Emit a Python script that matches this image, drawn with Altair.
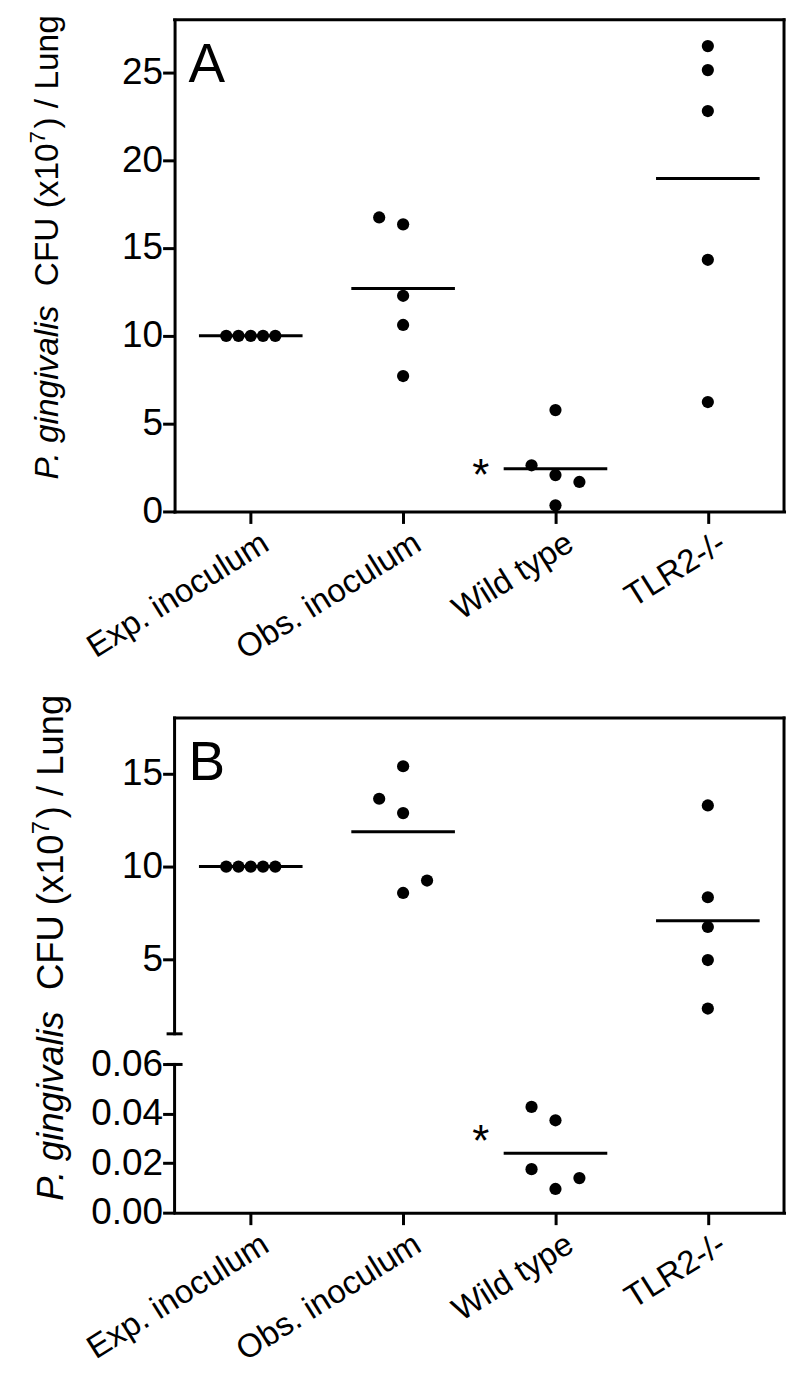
import json
import altair as alt
import pandas as pd

# ---------------- data ----------------
categories = ["Exp. inoculum", "Obs. inoculum", "Wild type", "TLR2-/-"]

# Panel A  (P. gingivalis CFU x10^7 / lung)
a_group = [0, 0, 0, 0, 0, 1, 1, 1, 1, 1, 2, 2, 2, 2, 2, 3, 3, 3, 3, 3]
a_slot = [-2, -1, 0, 1, 2, -1, 0, 0, 0, 0, -1, 0, 0, 0, 1, 0, 0, 0, 0, 0]
a_value = [10, 10, 10, 10, 10,
           16.74, 16.35, 12.28, 10.62, 7.71,
           2.63, 5.77, 2.07, 0.35, 1.68,
           26.5, 25.13, 22.8, 14.33, 6.23]
a_mean = [10, 12.7, 2.43, 18.96]
a_ticks = [0, 5, 10, 15, 20, 25]
a_star = 2.63

# Panel B  (broken axis: 0-0.06 and 1-18)
b_group = [0, 0, 0, 0, 0, 1, 1, 1, 1, 1, 2, 2, 2, 2, 2, 3, 3, 3, 3, 3]
b_slot = [-2, -1, 0, 1, 2, -1, 0, 0, 0, 1, -1, 0, -1, 0, 1, 0, 0, 0, 0, 0]
b_value = [10, 10, 10, 10, 10,
           13.65, 15.4, 12.88, 8.58, 9.25,
           0.0428, 0.0374, 0.0176, 0.0096, 0.014,
           13.29, 8.35, 6.75, 4.97, 2.36]
b_mean = [10, 11.88, 0.0241, 7.08]
b_ticks = [0, 0.02, 0.04, 0.06, 5, 10, 15]
b_star = 0.0331
b_segments_lo = [0, 1]
b_segments_hi = [0.06, 18]

# ---------------- style / layout ----------------
W = 611
HA = 493
HB = 496
STEP = W / 4
SLOT_PX = [12.3, 24, 24, 24]
FONT = "Liberation Sans"
LW = 3

def points_df(groups, slots, values):
    return pd.DataFrame({
        "pos": [g + s * SLOT_PX[g] / STEP for g, s in zip(groups, slots)],
        "value": values,
    })

def mean_df(means):
    return pd.DataFrame({
        "lo": [i - 0.34 for i in range(len(means))],
        "hi": [i + 0.34 for i in range(len(means))],
        "mean": means,
    })

one = pd.DataFrame({"k": [0]})

xscale = alt.Scale(domain=[-0.5, 3.5], nice=False, zero=False)
label_expr = json.dumps(categories) + "[datum.value]"
xaxis = alt.Axis(values=[0, 1, 2, 3], labelExpr=label_expr, labelAngle=-32,
                 labelAlign="right", labelBaseline="top", labelFont=FONT,
                 labelFontSize=33, labelColor="black", labelPadding=3,
                 labelOffset=6, labelOverlap=False, labelLimit=600,
                 tickSize=12, tickWidth=LW, tickColor="black",
                 domainWidth=LW, domainColor="black", domainCap="square",
                 grid=False, title=None)

# Arial / Liberation Sans advance widths (per 1000 em)
EM = {'P': 667, '.': 278, ' ': 278, 'g': 556, 'i': 222, 'n': 556, 'v': 500,
      'a': 556, 'l': 222, 's': 500, 'C': 722, 'F': 611, 'U': 722, '(': 333,
      'x': 500, '1': 556, '0': 556, '7': 556, ')': 333, '/': 278, 'L': 556,
      'u': 556}

def width(txt, size):
    return sum(EM[c] for c in txt) / 1000 * size

def title_layers(xb, y0, f):
    pieces = [
        ("P. gingivalis", "italic", f, 0, 0.45 * f),
        ("CFU (x10", "normal", f, 0, 0),
        ("7", "normal", 0.65 * f, 0.38 * f, 0.08 * f),
        (") / Lung", "normal", f, 0, 0),
    ]
    out = []
    y = y0
    for txt, style, size, rise, gap in pieces:
        out.append(
            alt.Chart(one).mark_text(text=txt, angle=270, align="left",
                                     baseline="alphabetic", font=FONT,
                                     fontSize=size, fontStyle=style,
                                     color="black")
            .encode(x=alt.value(xb - rise), y=alt.value(y))
        )
        y -= width(txt, size) + gap
    return out

def frame_layers(H):
    top = alt.Chart(one).mark_rule(color="black", strokeWidth=LW, strokeCap="square").encode(
        x=alt.value(0), x2=alt.value(W), y=alt.value(0))
    right = alt.Chart(one).mark_rule(color="black", strokeWidth=LW, strokeCap="square").encode(
        x=alt.value(W), y=alt.value(0), y2=alt.value(H))
    return [top, right]

def panel(df, means, yscale, yaxis, letter, star_val, H, title_cfg, extra_fn):
    X = lambda f: alt.X(f, scale=xscale, axis=xaxis)
    Y = lambda f: alt.Y(f, scale=yscale, axis=yaxis)
    pts = alt.Chart(df).mark_circle(size=150, color="black", opacity=1).encode(
        x=X("pos:Q"), y=Y("value:Q"))
    mn = alt.Chart(means).mark_rule(color="black", strokeWidth=LW).encode(
        x=X("lo:Q"), x2="hi:Q", y=Y("mean:Q"))
    star_df = pd.DataFrame({"pos": [2 - 0.49], "value": [star_val]})
    star = alt.Chart(star_df).mark_text(text="*", fontSize=44, font=FONT,
                                        align="center", baseline="middle",
                                        dy=12, color="black").encode(
        x=X("pos:Q"), y=Y("value:Q"))
    let = alt.Chart(one).mark_text(text=letter, fontSize=55, font=FONT,
                                   align="left", baseline="alphabetic",
                                   color="black").encode(
        x=alt.value(14), y=alt.value(62))
    layers = [pts, mn, star, let] + frame_layers(H) + extra_fn(Y) + title_layers(*title_cfg)
    return alt.layer(*layers).properties(width=W, height=H)

# Panel A
yscale_a = alt.Scale(domain=[0, 28], nice=False, zero=False)
yaxis_a = alt.Axis(values=a_ticks, labelFont=FONT, labelFontSize=37,
                   labelColor="black", labelPadding=0, tickSize=12,
                   tickWidth=LW, tickColor="black", domainWidth=LW,
                   domainColor="black", domainCap="square", grid=False,
                   title=None)
chart_a = panel(points_df(a_group, a_slot, a_value), mean_df(a_mean),
                yscale_a, yaxis_a, "A", a_star, HA, (-117, 461, 33.5),
                lambda Y: [])

# Panel B with broken axis (piecewise linear scale)
yscale_b = alt.Scale(domain=[0, 0.06, 1, 18], range=[HB, 347.4, 316.7, 0],
                     nice=False, zero=False)
yaxis_b = alt.Axis(values=b_ticks,
                   labelExpr="datum.value < 1 ? format(datum.value, '.2f') : format(datum.value, 'd')",
                   labelFont=FONT, labelFontSize=37, labelColor="black",
                   labelPadding=0, tickSize=12, tickWidth=LW, tickColor="black",
                   domain=False, grid=False, title=None)

def b_extra(Y):
    seg_df = pd.DataFrame({"lo": b_segments_lo, "hi": b_segments_hi})
    seg = alt.Chart(seg_df).mark_rule(color="black", strokeWidth=LW, strokeCap="square").encode(
        x=alt.value(0), y=Y("lo:Q"), y2="hi:Q")
    stub_df = pd.DataFrame({"y": [1, 0.06]})
    stub = alt.Chart(stub_df).mark_rule(color="black", strokeWidth=LW).encode(
        x=alt.value(-8), x2=alt.value(8), y=Y("y:Q"))
    return [seg, stub]

chart_b = panel(points_df(b_group, b_slot, b_value), mean_df(b_mean),
                yscale_b, yaxis_b, "B", b_star, HB, (-112, 484, 36.5), b_extra)

chart = alt.vconcat(chart_a, chart_b, spacing=28).configure_view(
    stroke=None).properties(padding={"left": 20, "top": 5, "right": 5, "bottom": 5})

chart.save("out.html", embed_options={"renderer": "svg", "actions": False})
